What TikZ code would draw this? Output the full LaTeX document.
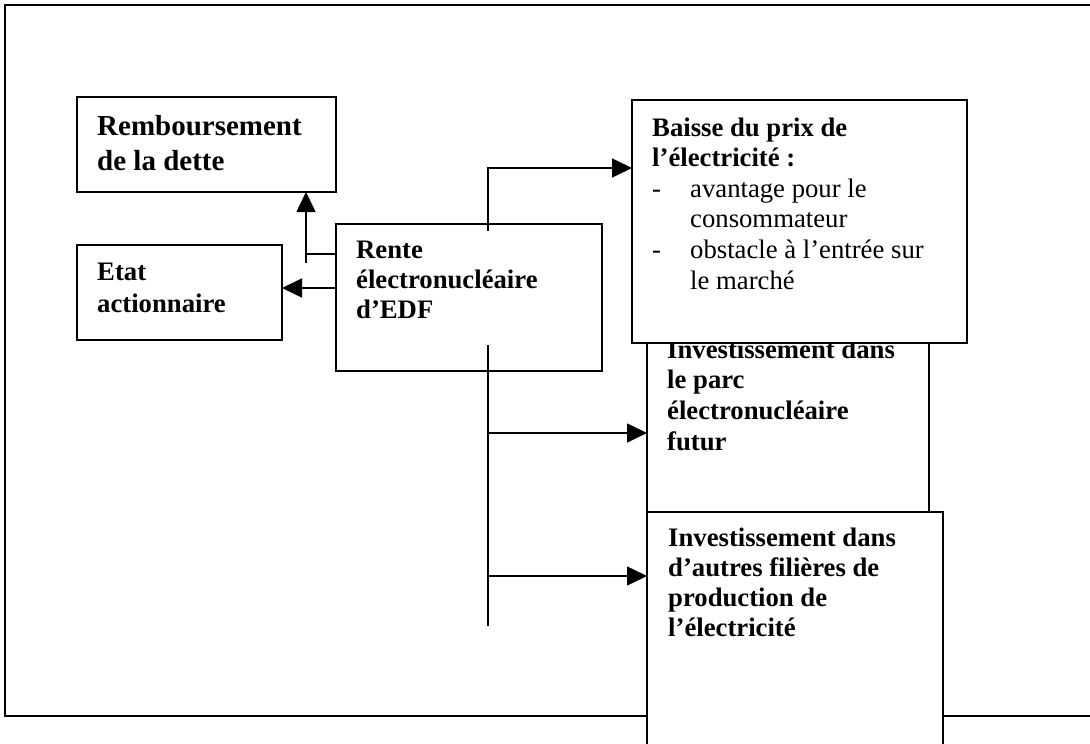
\documentclass[tikz,border=0pt]{standalone}
\usepackage{fontspec}
\setmainfont{Liberation Serif}
\usetikzlibrary{arrows.meta}
\newcommand{\vlines}[1]{\vtop{\halign{##\hfil\cr #1\crcr}}}
\tikzset{
  box/.style={draw, line width=1.6pt, fill=white, rectangle, inner sep=0pt, outer sep=0pt, anchor=north west},
  txt/.style={inner sep=0pt, anchor=base west, font=\fontsize{26.7}{30}\selectfont\bfseries},
  conn/.style={line width=1.6pt},
  arr/.style={conn, -{Triangle[length=20pt,width=19pt]}},
  frame/.style={line width=1.8pt}
}
\begin{document}
\begin{tikzpicture}[x=1pt,y=-1pt]
\useasboundingbox (0,0) rectangle (1090,744);
% outer frame
\draw[frame] (1100,5) -- (5,5) -- (5,716) -- (1100,716);

% boxes
\node[box, minimum width=259pt, minimum height=95pt] (remb) at (77,97) {};
\node[txt, font=\fontsize{29}{35}\selectfont\bfseries] (rembT) at (97,135) {\vlines{Remboursement\cr de la dette}};

\node[box, minimum width=205pt, minimum height=95pt] (etat) at (77,245) {};
\node[txt, font=\fontsize{26.7}{32}\selectfont\bfseries] (etatT) at (97,280) {\vlines{Etat\cr actionnaire}};

\node[box, minimum width=266pt, minimum height=147pt] (rente) at (336,224) {};
\node[txt] (renteT) at (356,258) {\vlines{Rente\cr électronucléaire\cr d’EDF}};

\node[box, minimum width=282pt, minimum height=182pt] (inv1) at (647,330) {};
\node[txt, font=\fontsize{26.7}{30.8}\selectfont\bfseries] (inv1T) at (667,358) {\vlines{Investissement dans\cr le parc\cr électronucléaire\cr futur}};

\node[box, minimum width=335pt, minimum height=243pt] (baisse) at (632,100) {};
\node[txt, font=\fontsize{26.7}{30.6}\selectfont] (baisseT) at (652,136) {\vlines{\textbf{Baisse du prix de}\cr \textbf{l’électricité :}\cr \makebox[38pt][l]{-}avantage pour le\cr \hspace*{38pt}consommateur\cr \makebox[38pt][l]{-}obstacle à l’entrée sur\cr \hspace*{38pt}le marché}};

\node[box, minimum width=296pt, minimum height=260pt] (inv2) at (647,512) {};
\node[txt] (inv2T) at (668,546) {\vlines{Investissement dans\cr d’autres filières de\cr production de\cr l’électricité}};

% connectors
\coordinate (jA) at (306,263);
\draw[arr] (jA) -- (jA |- remb.south);
\draw[conn] (rente.west |- 0,254) -- (306,254);
\draw[arr] (rente.west |- 0,288) -- (etat.east |- 0,288);

\coordinate (jB) at (488,231);
\draw[arr] (jB) -- (488,168) -- (baisse.west |- 0,168);

\coordinate (jC) at (488,345);
\coordinate (jD) at (488,626);
\draw[conn] (jC) -- (jD);
\draw[arr] (488,433) -- (inv1.west |- 0,433);
\draw[arr] (488,576) -- (inv2.west |- 0,576);
\end{tikzpicture}
\end{document}
